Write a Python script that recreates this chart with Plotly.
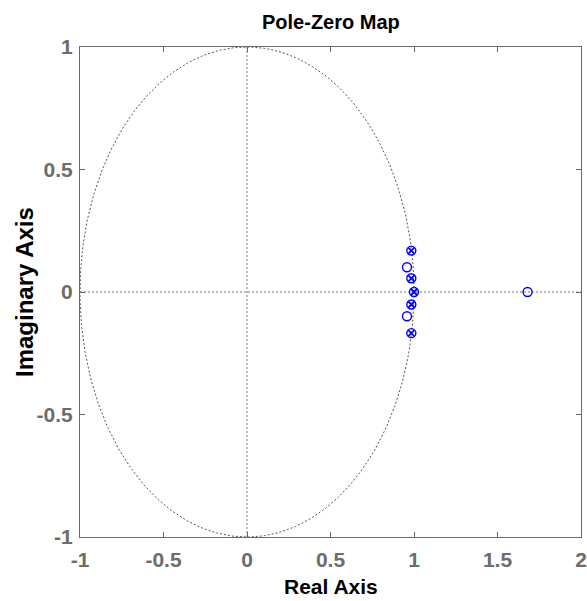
import numpy as np
import plotly.graph_objects as go

# Data
zero_re = [0.984, 0.984, 0.958, 1.0, 0.958, 0.984, 0.984, 1.68]
zero_im = [0.169, 0.056, 0.101, 0.0, -0.099, -0.051, -0.168, 0.0]
pole_re = [0.984, 0.984, 1.0, 0.984, 0.984]
pole_im = [0.169, 0.056, 0.0, -0.051, -0.168]
x_ticks = [-1, -0.5, 0, 0.5, 1, 1.5, 2]
x_labels = ["-1", "-0.5", "0", "0.5", "1", "1.5", "2"]
y_ticks = [-1, -0.5, 0, 0.5, 1]
y_labels = ["-1", "-0.5", "0", "0.5", "1"]

FONT = "Liberation Sans, Arial, sans-serif"
theta = np.linspace(0, 2 * np.pi, 400)
fig = go.Figure()
fig.add_trace(go.Scatter(x=np.cos(theta), y=np.sin(theta), mode="lines",
                         line=dict(color="#555555", width=1, dash="2px,2px"),
                         hoverinfo="skip", showlegend=False))
fig.add_trace(go.Scatter(x=[-1, 2], y=[0, 0], mode="lines",
                         line=dict(color="#777777", width=1, dash="2px,2px"),
                         hoverinfo="skip", showlegend=False))
fig.add_trace(go.Scatter(x=[0, 0], y=[-1, 1], mode="lines",
                         line=dict(color="#777777", width=1, dash="2px,2px"),
                         hoverinfo="skip", showlegend=False))
fig.add_trace(go.Scatter(x=zero_re, y=zero_im, mode="markers", name="zeros",
                         marker=dict(symbol="circle-open", size=9, color="#0000ff",
                                     line=dict(width=1.4, color="#0000ff")),
                         showlegend=False))
fig.add_trace(go.Scatter(x=pole_re, y=pole_im, mode="markers", name="poles",
                         marker=dict(symbol="x-thin-open", size=6, color="#0000ff",
                                     line=dict(width=1.8, color="#0000ff")),
                         showlegend=False))

tick_font = dict(family=FONT, size=21, color="#6c6c6c", weight="bold")
axis_common = dict(showgrid=False, zeroline=False, showline=True, linecolor="#6a6a6a",
                   linewidth=1.2, mirror="ticks", ticks="inside", ticklen=5,
                   tickcolor="#6a6a6a", tickfont=tick_font, automargin=False)

fig.update_layout(
    width=587, height=601,
    margin=dict(l=80, r=6, t=47, b=64),
    paper_bgcolor="white", plot_bgcolor="white",
    xaxis=dict(range=[-1.000001, 2.000001], tickvals=x_ticks, ticktext=x_labels,
               ticklabelstandoff=4, **axis_common),
    yaxis=dict(range=[-1.000001, 1.000001], tickvals=y_ticks, ticktext=y_labels,
               ticklabelstandoff=2, **axis_common),
    annotations=[
        dict(text="<b>Pole-Zero Map</b>", xref="paper", yref="paper", x=0.5, y=1,
             xanchor="center", yanchor="bottom", yshift=12, showarrow=False,
             font=dict(family=FONT, size=20, color="black")),
        dict(text="<b>Real Axis</b>", xref="paper", yref="paper", x=0.5, y=0,
             xanchor="center", yanchor="top", yshift=-36, showarrow=False,
             font=dict(family=FONT, size=21, color="black")),
        dict(text="<b>Imaginary Axis</b>", xref="paper", yref="paper", x=0, y=0.5,
             xanchor="center", yanchor="middle", xshift=-56, textangle=-90, showarrow=False,
             font=dict(family=FONT, size=24, color="black")),
    ],
)

fig.write_html("out.html", config={"displayModeBar": False},
               post_script="document.body.style.margin='0';document.body.style.overflow='hidden';")
